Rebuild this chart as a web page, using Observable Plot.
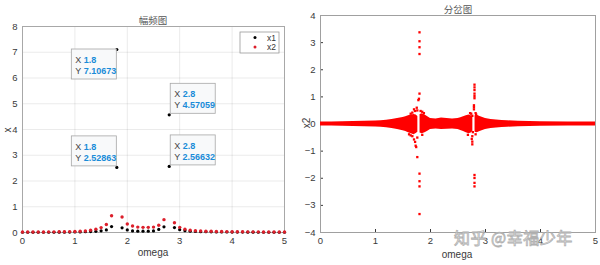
<!DOCTYPE html>
<html><head><meta charset="utf-8">
<script src="https://cdn.jsdelivr.net/npm/d3@7"></script>
<script src="https://cdn.jsdelivr.net/npm/@observablehq/plot@0.6"></script>
<style>
body{margin:0;background:#fff;}
#wrap{position:relative;width:600px;height:265px;overflow:hidden;}
#left{position:absolute;left:0;top:0;}
#right{position:absolute;left:300px;top:0;}
#wm{position:absolute;left:454px;top:229px;font-family:"Noto Sans CJK SC",sans-serif;font-size:16px;line-height:1;color:rgba(255,255,255,0.55);-webkit-text-stroke:0.8px #b0b0b0;letter-spacing:0.5px;white-space:nowrap;}
</style></head><body>
<div id="wrap"><div id="left"></div><div id="right"></div><div id="wm">知乎 @幸福少年</div></div>
<script>
// ---------- Left chart: 幅频图 ----------
const omega = [0,0.1,0.2,0.3,0.4,0.5,0.6,0.7,0.8,0.9,1.0,1.1,1.2,1.3,1.4,1.5,1.6,1.7,1.8,1.9,2.0,2.1,2.2,2.3,2.4,2.5,2.6,2.7,2.8,2.9,3.0,3.1,3.2,3.3,3.4,3.5,3.6,3.7,3.8,3.9,4.0,4.1,4.2,4.3,4.4,4.5,4.6,4.7,4.8,4.9,5.0];
const x1 = [0.01,0.01,0.01,0.01,0.01,0.01,0.01,0.012,0.014,0.016,
            0.02,0.024,0.03,0.035,0.045,0.065,0.1,0.23,7.10673,0.18,
            0.1,0.06,0.05,0.05,0.05,0.06,0.12,0.22,4.57059,0.19,
            0.11,0.07,0.05,0.04,0.03,0.03,0.025,0.02,0.02,0.02,
            0.015,0.015,0.015,0.012,0.012,0.01,0.01,0.01,0.01,0.01,0.01];
const x1ExtraOmega = [1.8, 2.8];
const x1Extra = [2.52863, 2.56632];
const x2 = [0.02,0.02,0.02,0.02,0.02,0.025,0.025,0.03,0.03,0.035,
            0.04,0.05,0.06,0.09,0.13,0.19,0.31,0.65,NaN,0.6,
            0.33,0.25,0.21,0.2,0.2,0.21,0.28,0.5,NaN,0.38,
            0.2,0.13,0.09,0.07,0.06,0.05,0.05,0.04,0.04,0.035,
            0.03,0.03,0.03,0.025,0.025,0.025,0.02,0.02,0.02,0.02,0.02];
const tipX = [1.8, 2.8, 1.8, 2.8];
const tipY = [7.10673, 4.57059, 2.52863, 2.56632];
const tipXLabel = ["1.8", "2.8", "1.8", "2.8"];
const tipYLabel = ["7.10673", "4.57059", "2.52863", "2.56632"];
const xTicks = [0,1,2,3,4,5];
const yTicksL = [0,1,2,3,4,5,6,7,8];
const seriesNames = ["x1", "x2"];

// ---------- Right chart: 分岔图 ----------
const bandOmega = [0,0.2,0.4,0.6,0.8,1.0,1.1,1.2,1.3,1.4,1.5,1.55,1.6,1.65,1.7,1.74,1.77,1.785,1.81,1.85,1.9,1.95,2.0,2.1,2.2,2.3,2.4,2.5,2.55,2.6,2.65,2.7,2.74,2.77,2.785,2.81,2.85,2.9,3.0,3.1,3.2,3.3,3.4,3.6,3.8,4.0,4.5,5.0];
const bandHi = [0.07,0.07,0.08,0.09,0.1,0.11,0.12,0.14,0.17,0.2,0.24,0.27,0.3,0.33,0.35,0.33,0.28,NaN,0.35,0.38,0.33,0.27,0.2,0.18,0.22,0.2,0.18,0.2,0.23,0.27,0.3,0.33,0.3,0.25,NaN,0.3,0.32,0.28,0.2,0.17,0.15,0.13,0.12,0.1,0.09,0.08,0.075,0.07];
const bandLo = [-0.07,-0.07,-0.08,-0.09,-0.1,-0.11,-0.12,-0.14,-0.17,-0.2,-0.25,-0.28,-0.32,-0.36,-0.4,-0.35,-0.3,NaN,-0.33,-0.36,-0.32,-0.27,-0.2,-0.18,-0.2,-0.19,-0.18,-0.2,-0.24,-0.28,-0.32,-0.36,-0.33,-0.28,NaN,-0.3,-0.32,-0.28,-0.2,-0.17,-0.15,-0.13,-0.12,-0.1,-0.09,-0.08,-0.075,-0.07];
const bifOmega = [1.8,1.8,1.8,1.8,1.8,1.79,1.78,1.76,1.8,1.8,1.8,1.8,
  1.70,1.67,1.64,1.72,1.75,1.82,1.85,1.88,1.67,1.70,1.72,1.73,1.74,1.61,1.64,1.85,1.76,1.76,
  2.8,2.8,2.8,2.8,2.8,2.8,2.79,2.79,2.79,2.8,2.8,2.8,2.8,
  2.76,2.75,2.76,2.76,2.74,2.72,2.68,2.82,2.83,2.82,2.76,2.77];
const bifX2 = [3.38,3.05,2.83,2.58,1.12,0.93,0.88,-1.22,-1.83,-2.11,-2.3,-3.32,
  0.54,0.42,0.38,0.48,0.6,0.48,0.45,0.4,-0.45,-0.57,-0.66,-0.8,-0.85,-0.38,-0.42,-0.4,0.5,-0.5,
  1.45,1.35,1.25,1.12,1.03,0.95,0.69,0.62,0.54,-1.88,-1.99,-2.17,-2.3,
  -0.45,-0.55,-0.65,-0.75,0.38,0.4,-0.4,0.4,0.35,-0.38,0.3,-0.3];
const yTicksR = [-4,-3,-2,-1,0,1,2,3,4];

const FONT = "Liberation Sans, Arial, Helvetica, sans-serif";
const CJK = "Noto Sans CJK SC, sans-serif";
const RED_L = "#dc1f2b";
const RED_R = "#ff0000";

const d1 = omega.map((o, i) => ({o, v: x1[i]})).concat(x1ExtraOmega.map((o, i) => ({o, v: x1Extra[i]})));
const d2 = omega.map((o, i) => ({o, v: x2[i]}));

const left = Plot.plot({
  width: 300, height: 265,
  marginLeft: 22, marginRight: 16, marginTop: 26, marginBottom: 33,
  style: {fontSize: "9.5px", fontFamily: FONT, color: "#3a3a3a", background: "white"},
  x: {domain: [0, 5], ticks: xTicks, tickFormat: "d", tickSize: 0, tickPadding: 5, label: null, grid: true},
  y: {domain: [0, 8], ticks: yTicksL, tickFormat: "d", tickSize: 0, tickPadding: 5, label: null, grid: true},
  marks: [
    Plot.frame({stroke: "#a8a8a8"}),
    Plot.dot(d1, {x: "o", y: "v", r: 1.6, fill: "black", stroke: "none"}),
    Plot.dot(d2, {x: "o", y: "v", r: 1.7, fill: RED_L, stroke: "none", filter: d => isFinite(d.v)})
  ]
});
document.getElementById("left").appendChild(left);

const sx = left.scale("x"), sy = left.scale("y");
const gL = d3.select(left);
gL.append("text").attr("x", 153).attr("y", 23.5).attr("text-anchor", "middle")
  .attr("font-family", CJK).attr("font-size", 9.5).attr("fill", "#555").text("幅频图");
gL.append("text").attr("x", 153).attr("y", 256).attr("text-anchor", "middle")
  .attr("font-family", FONT).attr("font-size", 10).attr("fill", "#3a3a3a").text("omega");
gL.append("text").attr("transform", "translate(11,130) rotate(-90)").attr("text-anchor", "middle")
  .attr("font-family", FONT).attr("font-size", 10).attr("fill", "#3a3a3a").text("x");

// Legend
const lg = gL.append("g");
lg.append("rect").attr("x", 240).attr("y", 32).attr("width", 39).attr("height", 21)
  .attr("fill", "white").attr("stroke", "#9a9a9a").attr("stroke-width", 0.8);
seriesNames.forEach((n, i) => {
  lg.append("circle").attr("cx", 255).attr("cy", 37.5 + i * 9.5).attr("r", 1.5).attr("fill", i ? RED_L : "black");
  lg.append("text").attr("x", 267).attr("y", 40.5 + i * 9.5).attr("text-anchor", "start").attr("font-family", FONT)
    .attr("font-size", 8.5).attr("fill", "#333").text(n);
});

// Data tips
const tipAnchor = ["tr", "bl", "br", "bl"];
tipX.forEach((tx, i) => {
  const px = sx.apply(tx), py = sy.apply(tipY[i]);
  const w = 45, h = 30;
  const a = tipAnchor[i];
  const bx = a[1] === "r" ? px - w : px + 1.5;
  const by = a[0] === "t" ? py : py - h - 1;
  const g = gL.append("g");
  g.append("rect").attr("x", bx).attr("y", by).attr("width", w).attr("height", h)
    .attr("fill", "#f8f9fa").attr("fill-opacity", 0.95).attr("stroke", "#a6a6a6").attr("stroke-width", 0.8);
  const t1 = g.append("text").attr("x", bx + 4).attr("y", by + 14).attr("text-anchor", "start").attr("font-family", FONT).attr("font-size", 9);
  t1.append("tspan").attr("fill", "#444").text("X ");
  t1.append("tspan").attr("fill", "#1a8cd8").attr("font-weight", "bold").text(tipXLabel[i]);
  const t2 = g.append("text").attr("x", bx + 4).attr("y", by + 25).attr("text-anchor", "start").attr("font-family", FONT).attr("font-size", 9);
  t2.append("tspan").attr("fill", "#444").text("Y ");
  t2.append("tspan").attr("fill", "#1a8cd8").attr("font-weight", "bold").text(tipYLabel[i]);
});

// ---------- Right chart ----------
const band = bandOmega.map((o, i) => ({o, hi: bandHi[i], lo: bandLo[i]}));
const bif = bifOmega.map((o, i) => ({o, v: bifX2[i]}));

const right = Plot.plot({
  width: 300, height: 265,
  marginLeft: 20, marginRight: 5, marginTop: 15, marginBottom: 33,
  style: {fontSize: "9.5px", fontFamily: FONT, color: "#3a3a3a", background: "white"},
  x: {domain: [0, 5], ticks: xTicks, tickFormat: "d", tickSize: -3, tickPadding: 8, label: null},
  y: {domain: [-4, 4], ticks: yTicksR, tickFormat: "d", tickSize: -3, tickPadding: 8, label: null},
  marks: [
    Plot.frame({stroke: "#a0a0a0"}),
    Plot.areaY(band, {x: "o", y1: "lo", y2: "hi", fill: RED_R}),
    Plot.dot(bif, {x: "o", y: "v", symbol: "square", r: 1.3, fill: RED_R, stroke: "none"})
  ]
});
document.getElementById("right").appendChild(right);
const gR = d3.select(right);
gR.append("text").attr("x", 158).attr("y", 12.5).attr("text-anchor", "middle")
  .attr("font-family", CJK).attr("font-size", 9.5).attr("fill", "#555").text("分岔图");
gR.append("text").attr("x", 157).attr("y", 258).attr("text-anchor", "middle")
  .attr("font-family", FONT).attr("font-size", 10).attr("fill", "#3a3a3a").text("omega");
gR.append("text").attr("transform", "translate(9.5,123) rotate(-90)").attr("text-anchor", "middle")
  .attr("font-family", FONT).attr("font-size", 10).attr("fill", "#3a3a3a").text("x2");
</script>
</body></html>
